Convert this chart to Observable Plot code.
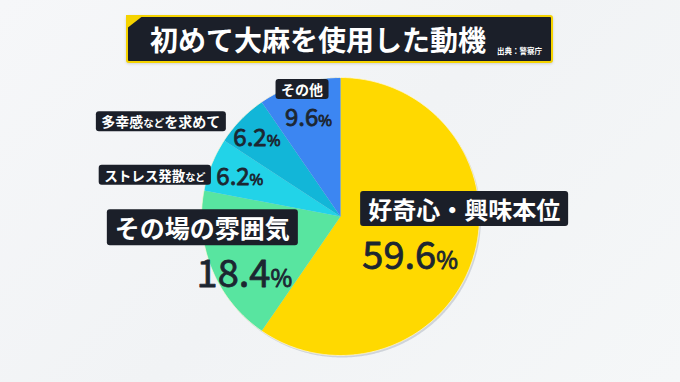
<!DOCTYPE html>
<html>
<head>
<meta charset="utf-8">
<script src="https://cdn.jsdelivr.net/npm/d3@7"></script>
<script src="https://cdn.jsdelivr.net/npm/@observablehq/plot@0.6"></script>
<style>
  html, body { margin: 0; padding: 0; background: #f3f5f7; }
  #wrap { position: relative; width: 680px; height: 382px; overflow: hidden;
          font-family: "Noto Sans CJK JP", "Noto Sans", sans-serif;
          background: linear-gradient(135deg, #f6f7f9 0%, #f1f3f5 50%, #f5f7f8 100%); }
  #wrap svg { position: absolute; left: 0; top: 0; }
  #titlebox { position: absolute; left: 126px; top: 15px; width: 423px; height: 44px;
              background: #1b1f29; border: 2px solid #f5d300; border-radius: 3px;
              box-shadow: 0 1px 3px rgba(0,0,0,0.15); }
  #corner { position: absolute; left: -2px; top: -2px; width: 18px; height: 14px;
            background: #f5d300; clip-path: polygon(0 0, 100% 0, 0 100%); }
  #title { position: absolute; left: 22px; top: 0; height: 44px; line-height: 44px;
           color: #fff; font-size: 28px; font-weight: 700; white-space: nowrap; }
  #source { position: absolute; left: 369px; top: 28px; color: #fff; font-size: 7.5px;
            font-weight: 700; white-space: nowrap; }
</style>
</head>
<body>
<div id="wrap">
  <div id="titlebox"><div id="corner"></div><div id="title">初めて大麻を使用した動機</div><div id="source">出典：警察庁</div></div>
</div>
<script>
// ---- data ----
const categories = ["好奇心・興味本位", "その場の雰囲気", "ストレス発散など", "多幸感などを求めて", "その他"];
const values = [59.6, 18.4, 6.2, 6.2, 9.6];

// ---- styles / layout ----
const colors = ["#ffd900", "#58e5a0", "#22d3e8", "#12b6d8", "#3c86f2"];
const W = 680, H = 382, cx = 340, cy = 216, R = 139;
const labelLayout = [
  {k: 0.6,  bdx: 44,   bdy: -30,  pdx: -10, pdy: 16,  bsize: 24,   psize: 38},
  {k: 0.6,  bdx: -61,  bdy: -18,  pdx: -19, pdy: 27,  bsize: 25,   psize: 38},
  {k: 0.75, bdx: -89,  bdy: -1,   pdx: -4,  pdy: 0,   bsize: 13.5, psize: 24},
  {k: 0.75, bdx: -105, bdy: -21,  pdx: -9,  pdy: -5,  bsize: 14,   psize: 24},
  {k: 0.75, bdx: -7.5, bdy: -26.5,pdx: -1,  pdy: 1.5, bsize: 14,   psize: 24}
];

// ---- geometry from data ----
const total = d3.sum(values);
let acc = 0;
const slices = categories.map((c, i) => {
  const a0 = acc / total * 2 * Math.PI;
  acc += values[i];
  const a1 = acc / total * 2 * Math.PI;
  return {c, v: values[i], a0, a1, mid: (a0 + a1) / 2};
});
const step = Math.PI / 360;
const pts = slices.flatMap(s => {
  const n = Math.max(2, Math.ceil((s.a1 - s.a0) / step));
  const arr = [{c: s.c, x: 0, y: 0}];
  for (let k = 0; k <= n; k++) {
    const a = s.a0 + (s.a1 - s.a0) * k / n;
    arr.push({c: s.c, x: Math.sin(a), y: Math.cos(a)});
  }
  return arr;
});
const circle = d3.range(0, 721).map(k => ({x: Math.sin(k * step), y: Math.cos(k * step)}));

const boxLabels = slices.map((s, i) => {
  const L = labelLayout[i];
  return {text: s.c, size: L.bsize,
          x: L.k * Math.sin(s.mid) + L.bdx / R,
          y: L.k * Math.cos(s.mid) - L.bdy / R};
});
const pctLabels = slices.map((s, i) => {
  const L = labelLayout[i];
  return {text: s.v.toFixed(1) + "%", size: L.psize,
          x: L.k * Math.sin(s.mid) + L.pdx / R,
          y: L.k * Math.cos(s.mid) - L.pdy / R};
});

const chart = Plot.plot({
  width: W, height: H, margin: 0,
  x: {domain: [-cx / R, (W - cx) / R], axis: null},
  y: {domain: [-(H - cy) / R, cy / R], axis: null},
  color: {domain: categories, range: colors},
  style: {background: "transparent", fontFamily: "'Noto Sans CJK JP', sans-serif"},
  marks: [
    Plot.line(circle, {x: "x", y: "y", fill: "#cfd4da", stroke: "none", curve: "linear-closed", dx: 1.5, dy: 2}),
    Plot.line(pts, {x: "x", y: "y", z: "c", fill: "c", stroke: "none", curve: "linear-closed"}),
    Plot.line(circle, {x: "x", y: "y", stroke: "#fff8d8", strokeWidth: 0.8, fill: "none"}),
    Plot.text(boxLabels, {x: "x", y: "y", text: "text", fontSize: "size", fill: "#ffffff",
                          fontWeight: 700, textAnchor: "middle", lineAnchor: "middle"}),
    Plot.text(pctLabels, {x: "x", y: "y", text: "text", fontSize: "size", fill: "#1c2631",
                          stroke: "#1c2631", strokeWidth: 0.8, fontWeight: 400,
                          textAnchor: "middle", lineAnchor: "middle"})
  ]
});

const wrap = document.getElementById("wrap");
wrap.insertBefore(chart, wrap.firstChild);

const NS = "http://www.w3.org/2000/svg";
const groups = chart.querySelectorAll('g[aria-label="text"]');
const boxG = groups[0], pctG = groups[1];
// mixed font sizes: smaller "など" and "%"
[...boxG.querySelectorAll("text"), ...pctG.querySelectorAll("text")].forEach(t => {
  const parts = t.textContent.split(/(など|%)/).filter(p => p.length);
  while (t.firstChild) t.removeChild(t.firstChild);
  parts.forEach(p => {
    const ts = document.createElementNS(NS, "tspan");
    if (p === "など") ts.setAttribute("font-size", "0.75em");
    if (p === "%") ts.setAttribute("font-size", "0.62em");
    ts.textContent = p;
    t.appendChild(ts);
  });
});
// dark rounded boxes behind category labels
boxG.querySelectorAll("text").forEach(t => {
  const b = t.getBBox();
  const fs = parseFloat(t.getAttribute("font-size")) || 14;
  const padX = fs > 20 ? 8 : 5.5;
  const r = document.createElementNS(NS, "rect");
  r.setAttribute("x", b.x - padX);
  r.setAttribute("y", b.y);
  r.setAttribute("width", b.width + 2 * padX);
  r.setAttribute("height", b.height);
  r.setAttribute("rx", 3);
  r.setAttribute("fill", "#1b1f29");
  const tr = t.getAttribute("transform");
  if (tr) r.setAttribute("transform", tr);
  t.parentNode.insertBefore(r, t);
});
</script>
</body>
</html>
